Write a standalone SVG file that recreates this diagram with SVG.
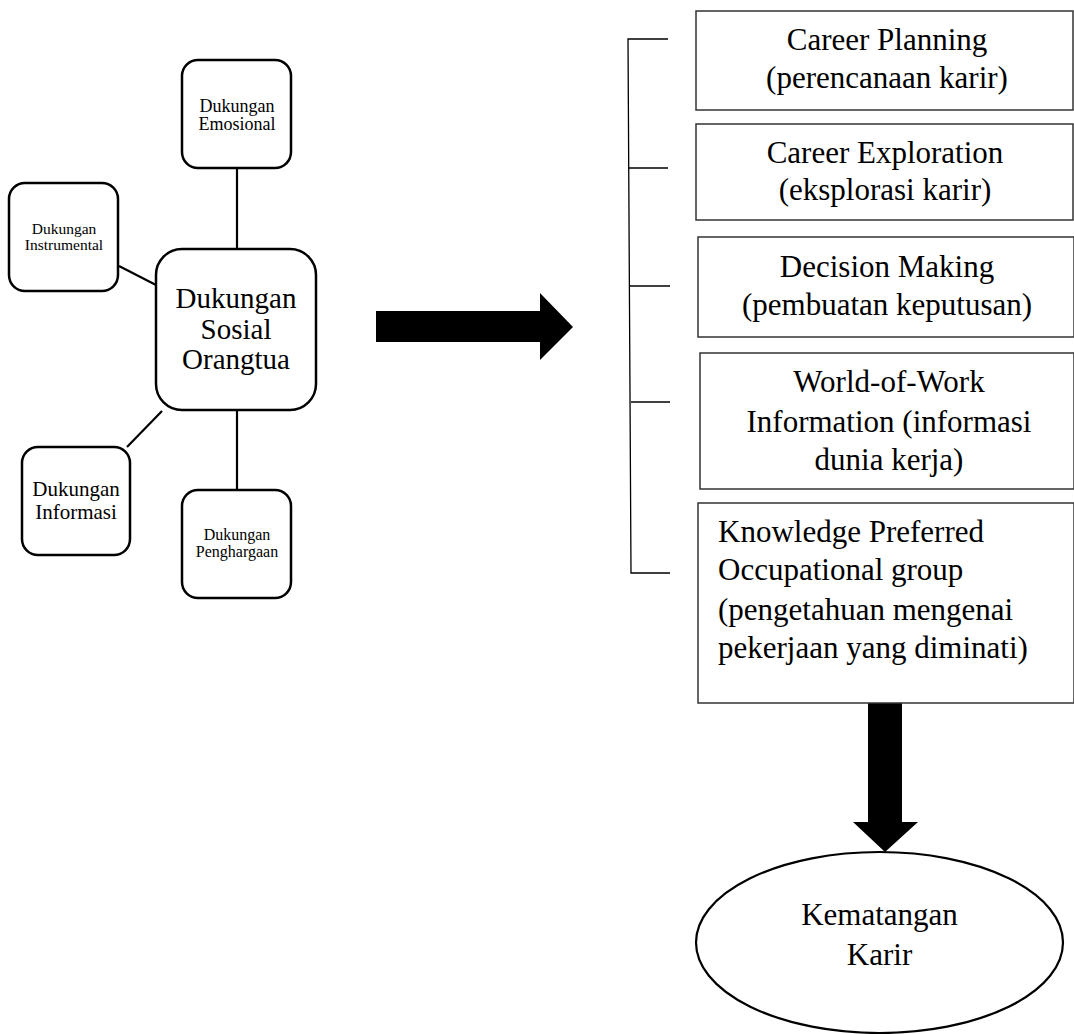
<svg xmlns="http://www.w3.org/2000/svg" width="1074" height="1034" viewBox="0 0 1074 1034">
<style>
.rb{fill:#fff;stroke:#000;stroke-width:2.5}
.sb{fill:#fff;stroke:#333;stroke-width:1.5}
.ln{stroke:#000;stroke-width:2.2;fill:none}
.br{stroke:#000;stroke-width:1.3;fill:none}
text{font-family:"Liberation Serif","Times New Roman",serif;fill:#000}
.c{text-anchor:middle}
</style>
<rect width="1074" height="1034" fill="#fff"/>
<g id="connectors">
<line class="ln" x1="237" y1="168" x2="237" y2="249"/>
<line class="ln" x1="119" y1="266" x2="156" y2="285"/>
<line class="ln" x1="162" y1="411" x2="127" y2="447"/>
<line class="ln" x1="237" y1="410" x2="237" y2="490"/>
<polygon points="376,311 540,311 540,293 573,327 540,360 540,342 376,342" fill="#000"/>
<polyline class="br" points="668,39 628,39 631,573 670,573"/>
<line class="br" x1="628" y1="168" x2="668" y2="168"/>
<line class="br" x1="630" y1="286" x2="670" y2="286"/>
<line class="br" x1="631" y1="402" x2="670" y2="402"/>
<polygon points="868,703 902,703 902,822 918,822 885,852 853,822 868,822" fill="#000"/>
</g>
<g id="emosional">
<rect class="rb" x="182" y="60" width="109" height="108" rx="16"/>
<text class="c" x="237" y="112" font-size="18">Dukungan</text>
<text class="c" x="237" y="130" font-size="18">Emosional</text>
</g>
<g id="instrumental">
<rect class="rb" x="9" y="183" width="109" height="108" rx="16"/>
<text class="c" x="64" y="234" font-size="15.5">Dukungan</text>
<text class="c" x="64" y="250" font-size="15.5">Instrumental</text>
</g>
<g id="sentral">
<rect class="rb" x="156" y="249" width="160" height="161" rx="26"/>
<text class="c" x="236" y="308" font-size="29">Dukungan</text>
<text class="c" x="236" y="339" font-size="29">Sosial</text>
<text class="c" x="236" y="369" font-size="29">Orangtua</text>
</g>
<g id="informasi">
<rect class="rb" x="22" y="447" width="108" height="108" rx="16"/>
<text class="c" x="76" y="496" font-size="21">Dukungan</text>
<text class="c" x="76" y="519" font-size="21">Informasi</text>
</g>
<g id="penghargaan">
<rect class="rb" x="182" y="490" width="109" height="108" rx="16"/>
<text class="c" x="237" y="540" font-size="16">Dukungan</text>
<text class="c" x="237" y="557" font-size="16">Penghargaan</text>
</g>
<g id="career-planning">
<rect class="sb" x="696" y="11" width="377" height="99"/>
<text class="c" x="887" y="50" font-size="31">Career Planning</text>
<text class="c" x="887" y="88" font-size="31">(perencanaan karir)</text>
</g>
<g id="career-exploration">
<rect class="sb" x="696" y="124" width="377" height="96"/>
<text class="c" x="885" y="163" font-size="31">Career Exploration</text>
<text class="c" x="885" y="200" font-size="31">(eksplorasi karir)</text>
</g>
<g id="decision-making">
<rect class="sb" x="698" y="237" width="376" height="100"/>
<text class="c" x="887" y="277" font-size="31">Decision Making</text>
<text class="c" x="887" y="315" font-size="31">(pembuatan keputusan)</text>
</g>
<g id="world-of-work">
<rect class="sb" x="700" y="353" width="374" height="136"/>
<text class="c" x="889" y="392" font-size="31">World-of-Work</text>
<text class="c" x="889" y="432" font-size="31">Information (informasi</text>
<text class="c" x="889" y="470" font-size="31">dunia kerja)</text>
</g>
<g id="knowledge">
<rect class="sb" x="698" y="503" width="376" height="200"/>
<text x="718" y="542" font-size="31">Knowledge Preferred</text>
<text x="718" y="580" font-size="31">Occupational group</text>
<text x="718" y="620" font-size="31">(pengetahuan mengenai</text>
<text x="718" y="658" font-size="31">pekerjaan yang diminati)</text>
</g>
<g id="kematangan">
<ellipse cx="879.5" cy="942.5" rx="183.5" ry="90.5" fill="#fff" stroke="#000" stroke-width="2.2"/>
<text class="c" x="879.5" y="925" font-size="31">Kematangan</text>
<text class="c" x="879.5" y="965" font-size="31">Karir</text>
</g>
</svg>
